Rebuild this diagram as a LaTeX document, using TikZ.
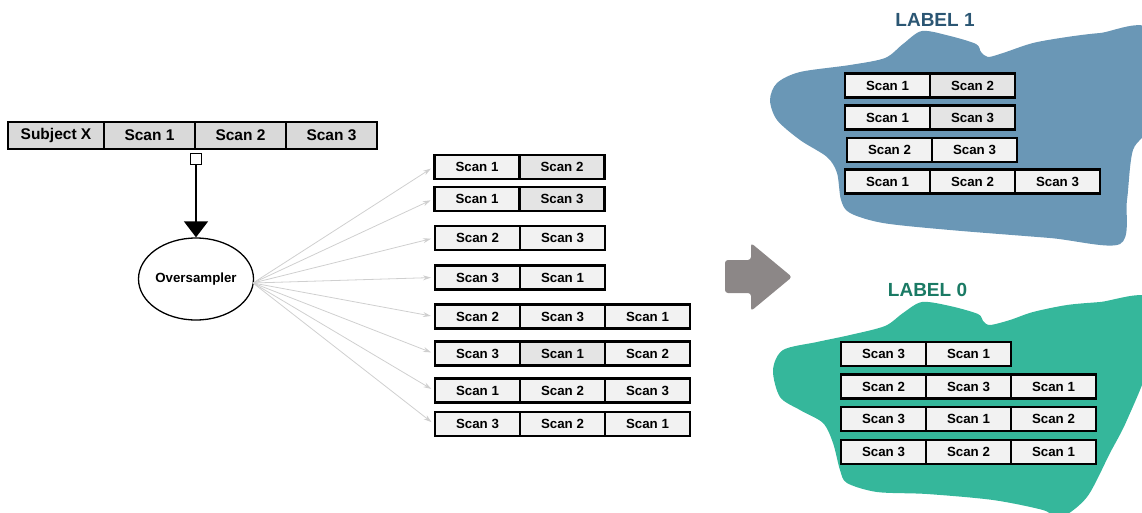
\documentclass[tikz,border=0pt]{standalone}
\usepackage{fontspec}
\setmainfont{Liberation Sans}
\usetikzlibrary{shapes.geometric,arrows.meta}
\definecolor{topfill}{HTML}{D9D9D9}
\definecolor{cellfill}{HTML}{F2F2F2}
\definecolor{celldark}{HTML}{E4E4E4}
\definecolor{blobblue}{HTML}{6A97B6}
\definecolor{blobteal}{HTML}{35B79B}
\definecolor{labblue}{HTML}{2B5673}
\definecolor{labteal}{HTML}{1A7A64}
\definecolor{bigarrow}{HTML}{8C8787}
\definecolor{fangrey}{HTML}{CFCFCF}
\newcommand\scanfont{\bfseries\fontsize{13.3}{15}\selectfont}
\newcommand\topfont{\bfseries\fontsize{15.5}{17}\selectfont}
\newcommand\labfont{\bfseries\fontsize{19}{21}\selectfont}
\tikzset{
  cell/.style={draw=black, line width=2.1pt, fill=cellfill, minimum width=85pt,
    minimum height=24pt, inner sep=0pt, font=\scanfont},
  dcell/.style={cell, fill=celldark},
  topcell/.style={draw=black, line width=2.1pt, fill=topfill, minimum height=27pt,
    inner sep=0pt, font=\topfont},
  fanline/.style={draw=fangrey, line width=0.8pt, shorten >=3pt,
    -{Stealth[length=8pt,width=5pt]}},
  labeltext/.style={font=\labfont},
}
\begin{document}
\begin{tikzpicture}[x=1pt,y=-1pt]
\useasboundingbox (0,0) rectangle (1142,512);

% blobs
\fill[blobblue] plot[smooth cycle, tension=0.5] coordinates {(770,100) (777,83) (800,72) (850,65) (885,58) (903,44) (922,31) (950,36) (976,44) (981,52) (988,57) (1003,53) (1033,43) (1067,37) (1100,33) (1150,30) (1152,120) (1133,150) (1127,200) (1120,244) (1050,238) (950,230) (883,223) (850,213) (841,200) (837,173) (827,157) (800,140) (777,120)};
\fill[blobteal] plot[smooth cycle, tension=0.5] coordinates {(773,370) (783,350) (817,342) (850,335) (885,326) (903,313) (922,302) (950,306) (978,314) (983,321) (990,325) (1010,320) (1033,312) (1067,305) (1100,302) (1150,298) (1150,360) (1127,420) (1110,453) (1087,497) (1060,518) (1043,510) (993,500) (927,494) (877,492) (847,483) (840,470) (833,443) (823,423) (800,410) (780,397)};

\node[labeltext, text=labblue] (lab1) at (935,19.5) {LABEL 1};
\node[labeltext, text=labteal] (lab0) at (927.5,290) {LABEL 0};

% top bar
\node[topcell, minimum width=96pt] (tx) at (56,135.5) {Subject X};
\node[topcell, minimum width=91pt] (t1) at (149.5,135.5) {Scan 1};
\node[topcell, minimum width=91pt] (t2) at (240.5,135.5) {Scan 2};
\node[topcell, minimum width=91pt] (t3) at (331.5,135.5) {Scan 3};

\node[draw=black, line width=1.3pt, fill=white, minimum size=11pt, inner sep=0pt] (sq) at (196,159) {};
\node[draw=black, line width=1.3pt, ellipse, minimum width=102pt, minimum height=82pt,
  inner sep=0pt, font=\scanfont] (osc) at (196,279) {Oversampler};
\draw[line width=1.5pt, -{Triangle[width=24pt,length=16pt]}] (sq.south) -- (osc.north);

% middle column
\node[cell] (m1a) at (477,167) {Scan 1};
\node[dcell] (m1b) at (562,167) {Scan 2};
\node[cell] (m2a) at (477,199) {Scan 1};
\node[dcell] (m2b) at (562,199) {Scan 3};
\node[cell] (m3a) at (477.5,238) {Scan 2};
\node[cell] (m3b) at (562.5,238) {Scan 3};
\node[cell] (m4a) at (477.5,277.5) {Scan 3};
\node[cell] (m4b) at (562.5,277.5) {Scan 1};
\node[cell] (m5a) at (477.5,316.5) {Scan 2};
\node[cell] (m5b) at (562.5,316.5) {Scan 3};
\node[cell] (m5c) at (647.5,316.5) {Scan 1};
\node[cell] (m6a) at (477.5,353.5) {Scan 3};
\node[dcell] (m6b) at (562.5,353.5) {Scan 1};
\node[cell] (m6c) at (647.5,353.5) {Scan 2};
\node[cell] (m7a) at (477.5,390.5) {Scan 1};
\node[cell] (m7b) at (562.5,390.5) {Scan 2};
\node[cell] (m7c) at (647.5,390.5) {Scan 3};
\node[cell] (m8a) at (477.5,424) {Scan 3};
\node[cell] (m8b) at (562.5,424) {Scan 2};
\node[cell] (m8c) at (647.5,424) {Scan 1};

% fan
\coordinate (fan) at (253,283);
\foreach \n in {m1a,m2a,m3a,m4a,m5a,m6a,m7a,m8a}
  \draw[fanline] (fan) -- (\n.west);

% big arrow
\fill[bigarrow, rounded corners=3pt] (725,260) -- (751,260) -- (751,243) -- (792,277)
  -- (751,311) -- (751,293) -- (725,293) -- cycle;

% label 1 group
\node[cell] (a1a) at (887.5,85.5) {Scan 1};
\node[dcell] (a1b) at (972.5,85.5) {Scan 2};
\node[cell] (a2a) at (887.5,117.5) {Scan 1};
\node[dcell] (a2b) at (972.5,117.5) {Scan 3};
\node[cell] (a3a) at (889.5,150) {Scan 2};
\node[cell] (a3b) at (974.5,150) {Scan 3};
\node[cell] (a4a) at (887.5,181.5) {Scan 1};
\node[cell] (a4b) at (972.5,181.5) {Scan 2};
\node[cell] (a4c) at (1057.5,181.5) {Scan 3};

% label 0 group
\node[cell] (b1a) at (883.5,354) {Scan 3};
\node[cell] (b1b) at (968.5,354) {Scan 1};
\node[cell] (b2a) at (883.5,386.5) {Scan 2};
\node[cell] (b2b) at (968.5,386.5) {Scan 3};
\node[cell] (b2c) at (1053.5,386.5) {Scan 1};
\node[cell] (b3a) at (883.5,419) {Scan 3};
\node[cell] (b3b) at (968.5,419) {Scan 1};
\node[cell] (b3c) at (1053.5,419) {Scan 2};
\node[cell] (b4a) at (883.5,452) {Scan 3};
\node[cell] (b4b) at (968.5,452) {Scan 2};
\node[cell] (b4c) at (1053.5,452) {Scan 1};
\end{tikzpicture}
\end{document}
